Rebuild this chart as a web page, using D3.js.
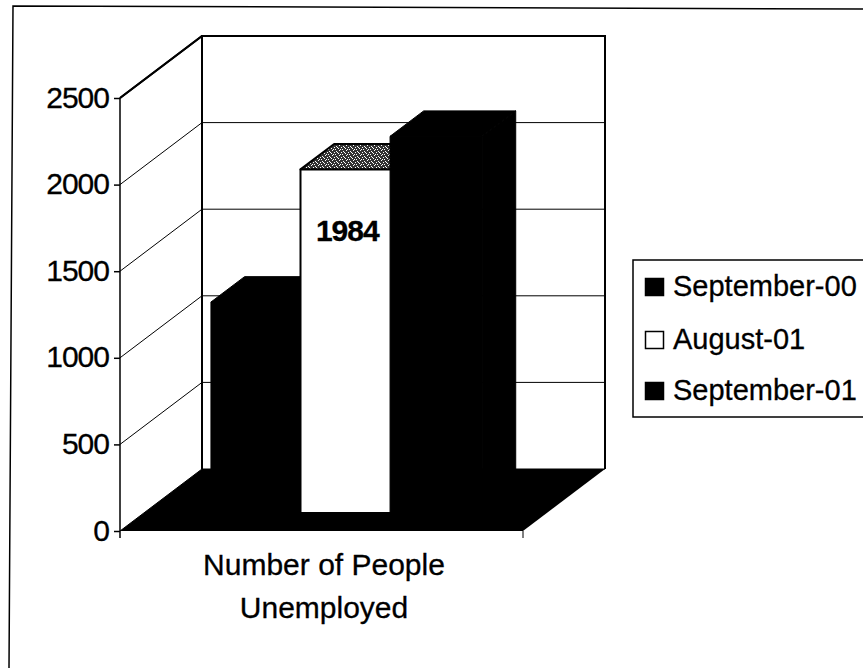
<!DOCTYPE html>
<html>
<head>
<meta charset="utf-8">
<script src="https://cdn.jsdelivr.net/npm/d3@7/dist/d3.min.js"></script>
<style>
  html, body { margin: 0; padding: 0; background: #fff; }
  svg { display: block; }
  text { font-family: "Liberation Sans", Arial, sans-serif; fill: #000; stroke: #000; stroke-width: 0.3px; }
</style>
</head>
<body>
<div id="chart"></div>
<script>
// values
var series = ["September-00", "August-01", "September-01"];
var values = [1218, 1984, 2175];
var barFills = ["#000", "#fff", "#000"];
var yTicks = [0, 500, 1000, 1500, 2000, 2500];
var categoryLines = ["Number of People", "Unemployed"];
var dataLabel = "1984";

var width = 863, height = 668;

// front plane of the 3d box
var y = d3.scaleLinear().domain([0, 2500]).range([531, 98]);
var x = d3.scaleBand().domain(series).range([120, 523]).paddingInner(0).paddingOuter(0.75);

// depth 0 = front of the floor, 1 = back wall
var depthX = d3.scaleLinear().domain([0, 1]).range([0, 82]);
var depthY = d3.scaleLinear().domain([0, 1]).range([0, -62]);

function px(xv, d) { return xv + depthX(d); }
function py(v, d) { return y(v) + depthY(d); }
function pt(xv, v, d) { return [px(xv, d), py(v, d)]; }

var barFront = 0.29, barBack = 0.70;
var barOverlap = 2.5; // bars run slightly into each other

var svg = d3.select("#chart").append("svg")
    .attr("width", width)
    .attr("height", height);

var defs = svg.append("defs");
// grainy fill of the bar top, like the scanned dither
var grain = defs.append("pattern")
    .attr("id", "grain")
    .attr("width", 7).attr("height", 5)
    .attr("patternUnits", "userSpaceOnUse");
grain.append("rect").attr("width", 7).attr("height", 5).attr("fill", "#333");
[[0, 1], [3, 0], [2, 3], [5, 2], [6, 4], [4, 4], [1, 2]].forEach(function(c) {
  grain.append("rect").attr("x", c[0]).attr("y", c[1]).attr("width", 1).attr("height", 1).attr("fill", "#fff");
});

var line = d3.line();

// outer chart frame, slightly skewed in the scan, no right or bottom edge
svg.append("path")
    .attr("d", line([[863, 9], [13, 6], [9, 668]]))
    .attr("fill", "none")
    .attr("stroke", "#000")
    .attr("stroke-width", 1.5);

var xL = x.range()[0], xR = x.range()[1];

// back wall
svg.append("path")
    .attr("d", line([pt(xL, 0, 1), pt(xL, 2500, 1), pt(xR, 2500, 1), pt(xR, 0, 1)]))
    .attr("fill", "none")
    .attr("stroke", "#000")
    .attr("stroke-width", 2);

// gridlines: along the left wall and across the back
var grid = svg.append("g").attr("fill", "none").attr("stroke", "#000");
yTicks.forEach(function(t) {
  grid.append("path")
      .attr("d", line([pt(xL, t, 0), pt(xL, t, 1), pt(xR, t, 1)]))
      .attr("stroke-width", t === 2500 ? 2 : 1);
});

// floor
svg.append("path")
    .attr("d", line([pt(xL, 0, 0), pt(xL, 0, 1), pt(xR, 0, 1), pt(xR, 0, 0)]))
    .attr("fill", "#000");

// bars, left to right so each one covers the side of the last
series.forEach(function(s, i) {
  var x0 = x(s), x1 = x(s) + x.bandwidth() + barOverlap, v = values[i];
  var outline = i === 1 ? 2 : 1;
  var g = svg.append("g").attr("stroke", "#000").attr("stroke-width", outline).attr("stroke-linejoin", "round");

  // right side
  g.append("path")
      .attr("d", line([pt(x1, 0, barFront), pt(x1, 0, barBack), pt(x1, v, barBack), pt(x1, v, barFront)]) + "Z")
      .attr("fill", "#000");
  // top
  g.append("path")
      .attr("d", line([pt(x0, v, barFront), pt(x0, v, barBack), pt(x1, v, barBack), pt(x1, v, barFront)]) + "Z")
      .attr("fill", i === 1 ? "url(#grain)" : barFills[i]);
  // front
  g.append("path")
      .attr("d", line([pt(x0, 0, barFront), pt(x0, v, barFront), pt(x1, v, barFront), pt(x1, 0, barFront)]) + "Z")
      .attr("fill", barFills[i]);
});

// value label on the white bar
svg.append("text")
    .attr("x", px(x("August-01") + x.bandwidth() / 2, barFront) + 2)
    .attr("y", 241)
    .attr("text-anchor", "middle")
    .attr("font-size", 30)
    .attr("letter-spacing", "-1px")
    .attr("font-weight", "bold")
    .text(dataLabel);

// front vertical axis
var axis = svg.append("g")
    .attr("transform", "translate(" + xL + ",0)")
    .call(d3.axisLeft(y).tickValues(yTicks).tickSize(6).tickPadding(5).tickFormat(d3.format("d")));
axis.select(".domain").attr("stroke-width", 1.5).attr("d", line([[0, y(2500)], [0, y(0) + 7]]));
axis.selectAll("line").attr("stroke", "#000").attr("stroke-width", 1.5);
axis.selectAll("text").attr("font-size", 30).attr("letter-spacing", "-1px").attr("dy", "0.3em");

// heavy top edge of the left wall
svg.append("path")
    .attr("d", line([pt(xL, 2500, 0), pt(xL, 2500, 1)]))
    .attr("stroke", "#000")
    .attr("stroke-width", 2);

// category tick at the right end of the floor
svg.append("path")
    .attr("d", line([[xR, y(0)], [xR, y(0) + 7]]))
    .attr("stroke", "#000")
    .attr("stroke-width", 1);

// category label
svg.append("g").selectAll("text").data(categoryLines).enter().append("text")
    .attr("x", 324)
    .attr("y", function(d, i) { return 575 + i * 43; })
    .attr("text-anchor", "middle")
    .attr("font-size", 30)
    .text(function(d) { return d; });

// legend, clipped by the edge of the scan
var legendRows = [296, 349, 400];
svg.append("rect")
    .attr("x", 633).attr("y", 260)
    .attr("width", 240).attr("height", 157)
    .attr("fill", "#fff")
    .attr("stroke", "#000")
    .attr("stroke-width", 1.5);

var legend = svg.append("g").selectAll("g").data(series).enter().append("g")
    .attr("transform", function(d, i) { return "translate(0," + legendRows[i] + ")"; });
legend.append("rect")
    .attr("x", 645.5).attr("y", -17.5)
    .attr("width", 18).attr("height", 17)
    .attr("fill", function(d, i) { return barFills[i]; })
    .attr("stroke", "#000")
    .attr("stroke-width", 1.5);
legend.append("text")
    .attr("x", 673)
    .attr("font-size", 29)
    .text(function(d) { return d; });
</script>
</body>
</html>
